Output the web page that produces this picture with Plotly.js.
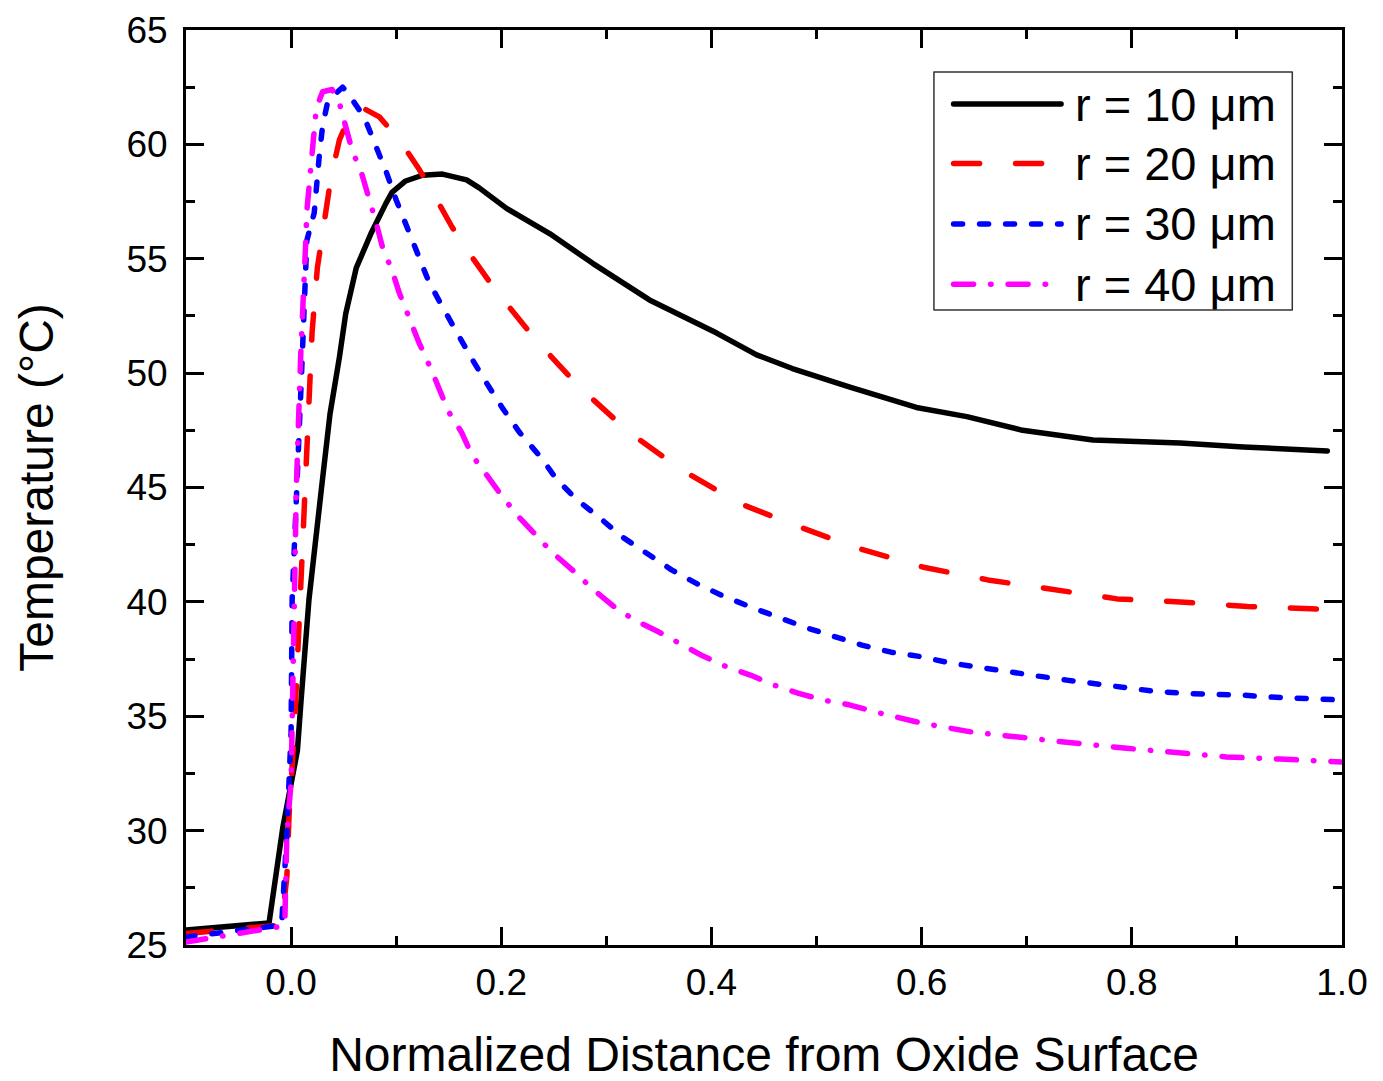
<!DOCTYPE html>
<html>
<head>
<meta charset="utf-8">
<script src="https://cdn.plot.ly/plotly-3.0.1.min.js"></script>
<style>
html,body{margin:0;padding:0;background:#fff;}
#chart{width:1383px;height:1081px;}
#chart .scatterlayer path.js-line, #chart .shapelayer path{stroke-linecap:round;stroke-linejoin:round;}
</style>
</head>
<body>
<div id="chart"></div>
<script>
// ---- data ----
const seriesNames = ["r = 10 μm", "r = 20 μm", "r = 30 μm", "r = 40 μm"];

const x10 = [-0.1, -0.021, -0.008, 0.006, 0.0095, 0.017, 0.029, 0.037, 0.046, 0.052, 0.062, 0.070, 0.076, 0.090, 0.096, 0.109, 0.125, 0.144, 0.167, 0.179, 0.205, 0.246, 0.287, 0.341, 0.405, 0.443, 0.477, 0.531, 0.595, 0.643, 0.696, 0.763, 0.846, 0.906, 0.986];
const y10 = [25.66, 25.96, 30.1, 33.5, 35.7, 40.1, 45.0, 48.2, 50.7, 52.6, 54.6, 55.5, 56.1, 57.4, 57.9, 58.4, 58.65, 58.7, 58.45, 58.1, 57.2, 56.1, 54.8, 53.2, 51.75, 50.8, 50.2, 49.4, 48.5, 48.1, 47.5, 47.08, 46.95, 46.77, 46.6];

const x20 = [-0.1, -0.009, -0.004, -0.002, 0.003, 0.008, 0.014, 0.020, 0.025, 0.029, 0.034, 0.038, 0.046, 0.052, 0.057, 0.068, 0.084, 0.103, 0.122, 0.136, 0.153, 0.167, 0.195, 0.233, 0.274, 0.322, 0.372, 0.427, 0.484, 0.539, 0.603, 0.663, 0.725, 0.786, 0.846, 0.910, 0.970, 0.987];
const y20 = [25.5, 25.87, 28.0, 30.6, 34.3, 39.6, 46.0, 51.8, 54.6, 55.95, 57.57, 58.57, 60.2, 60.93, 61.37, 61.6, 61.2, 60.2, 58.9, 57.8, 56.4, 55.4, 53.6, 51.45, 49.4, 47.4, 45.76, 44.3, 43.27, 42.35, 41.5, 40.96, 40.52, 40.13, 40.0, 39.8, 39.7, 39.65];

const x30 = [-0.1, -0.009, -0.004, 0.0, 0.001, 0.006, 0.010, 0.013, 0.015, 0.022, 0.024, 0.027, 0.030, 0.035, 0.049, 0.053, 0.0695, 0.081, 0.0905, 0.100, 0.110, 0.121, 0.131, 0.144, 0.157, 0.171, 0.186, 0.201, 0.217, 0.238, 0.252, 0.271, 0.293, 0.315, 0.338, 0.362, 0.386, 0.411, 0.437, 0.464, 0.491, 0.518, 0.544, 0.571, 0.600, 0.627, 0.653, 0.682, 0.710, 0.738, 0.765, 0.793, 0.820, 0.849, 0.876, 0.903, 0.931, 0.958, 0.986, 0.996];
const y30 = [25.35, 25.87, 29.9, 34.3, 40.1, 45.0, 50.0, 53.5, 55.8, 57.0, 58.35, 59.6, 60.8, 61.9, 62.5, 62.3, 61.2, 59.9, 58.8, 57.57, 56.4, 55.1, 54.0, 52.9, 51.8, 50.7, 49.57, 48.48, 47.43, 46.3, 45.4, 44.5, 43.7, 42.84, 42.14, 41.4, 40.8, 40.26, 39.78, 39.3, 38.86, 38.47, 38.1, 37.8, 37.6, 37.33, 37.15, 36.9, 36.76, 36.58, 36.41, 36.24, 36.1, 36.0, 35.97, 35.93, 35.84, 35.8, 35.75, 35.72];

const x40 = [-0.1, -0.011, -0.006, -0.004, 0.0, 0.001, 0.002, 0.005, 0.009, 0.011, 0.012, 0.014, 0.015, 0.017, 0.020, 0.022, 0.024, 0.030, 0.039, 0.046, 0.052, 0.058, 0.067, 0.074, 0.081, 0.087, 0.096, 0.103, 0.112, 0.122, 0.133, 0.143, 0.150, 0.162, 0.172, 0.186, 0.201, 0.217, 0.233, 0.248, 0.270, 0.286, 0.307, 0.327, 0.350, 0.370, 0.392, 0.415, 0.437, 0.459, 0.483, 0.507, 0.531, 0.560, 0.600, 0.649, 0.698, 0.745, 0.795, 0.843, 0.890, 0.941, 0.989, 1.0];
const y40 = [25.13, 25.8, 25.9, 29.9, 32.1, 35.0, 40.0, 45.0, 50.6, 52.3, 54.2, 55.8, 57.1, 58.0, 59.3, 60.2, 61.6, 62.3, 62.4, 61.8, 60.76, 59.75, 58.75, 57.7, 56.56, 55.5, 54.5, 53.5, 52.45, 51.3, 50.2, 49.13, 48.3, 47.43, 46.42, 45.55, 44.6, 43.7, 42.9, 42.18, 41.3, 40.6, 39.8, 39.2, 38.68, 38.2, 37.63, 37.15, 36.8, 36.37, 36.0, 35.7, 35.5, 35.14, 34.7, 34.3, 34.09, 33.83, 33.6, 33.39, 33.22, 33.13, 33.04, 33.0];

const xTickVals = [0.0, 0.2, 0.4, 0.6, 0.8, 1.0];
const xTickText = ["0.0", "0.2", "0.4", "0.6", "0.8", "1.0"];
const yTickVals = [25, 30, 35, 40, 45, 50, 55, 60, 65];
const yTickText = ["25", "30", "35", "40", "45", "50", "55", "60", "65"];

// ---- styles ----
const colors = ["#000000", "#ff0000", "#0000ff", "#ff00ff"];
const dashes = ["solid", "26px,36px", "9px,17px", "20px,17px,0.5px,17px"];
const xs = [x10, x20, x30, x40];
const ys = [y10, y20, y30, y40];

const traces = xs.map((xv, i) => ({
  type: "scatter", mode: "lines", name: seriesNames[i],
  x: xv, y: ys[i],
  line: {color: colors[i], width: 5.5, dash: dashes[i]},
  showlegend: false
}));

// custom legend (box + line samples + labels) in paper coordinates
const shapes = [{
  type: "rect", xref: "paper", yref: "paper",
  x0: 0.647, x1: 0.957, y0: 0.694, y1: 0.954,
  line: {color: "#333333", width: 1.5}, fillcolor: "rgba(255,255,255,1)", layer: "above"
}];
const annotations = [];
const rowY = [0.919, 0.854, 0.788, 0.722];
seriesNames.forEach((n, i) => {
  shapes.push({
    type: "line", xref: "paper", yref: "paper",
    x0: 0.664, x1: 0.757, y0: rowY[i], y1: rowY[i],
    line: {color: colors[i], width: 5.5, dash: dashes[i]}, layer: "above"
  });
  annotations.push({
    xref: "paper", yref: "paper", x: 0.767, y: rowY[i],
    xanchor: "left", yanchor: "middle", text: n, showarrow: false,
    font: {family: "Liberation Sans, Arial, sans-serif", size: 47, color: "#000"}
  });
});

const axisCommon = {
  showline: true, linecolor: "#000", linewidth: 3, mirror: "allticks",
  ticks: "inside", ticklen: 18, tickwidth: 3, tickcolor: "#000",
  showgrid: false, zeroline: false,
  tickfont: {family: "Liberation Sans, Arial, sans-serif", size: 37, color: "#000"}
};

const layout = {
  width: 1383, height: 1081,
  paper_bgcolor: "#ffffff", plot_bgcolor: "#ffffff",
  margin: {l: 186, r: 41, t: 30, b: 136, autoexpand: false},
  font: {family: "Liberation Sans, Arial, sans-serif", color: "#000"},
  xaxis: Object.assign({}, axisCommon, {
    range: [-0.1, 1.0], tickmode: "array", tickvals: xTickVals, ticktext: xTickText,
    minor: {ticks: "inside", ticklen: 9, tickwidth: 3, tickcolor: "#000", dtick: 0.1, tick0: 0, showgrid: false},
    ticklabelstandoff: 3,
    title: {text: "Normalized Distance from Oxide Surface", font: {size: 48, color: "#000"}, standoff: 36}
  }),
  yaxis: Object.assign({}, axisCommon, {
    range: [25, 65], tickmode: "array", tickvals: yTickVals, ticktext: yTickText,
    minor: {ticks: "inside", ticklen: 9, tickwidth: 3, tickcolor: "#000", dtick: 2.5, tick0: 25, showgrid: false},
    ticklabelstandoff: 8,
    title: {text: "Temperature (°C)", font: {size: 48, color: "#000"}, standoff: 58}
  }),
  shapes: shapes,
  annotations: annotations,
  showlegend: false
};

Plotly.newPlot("chart", traces, layout, {staticPlot: true, displayModeBar: false});
</script>
</body>
</html>
